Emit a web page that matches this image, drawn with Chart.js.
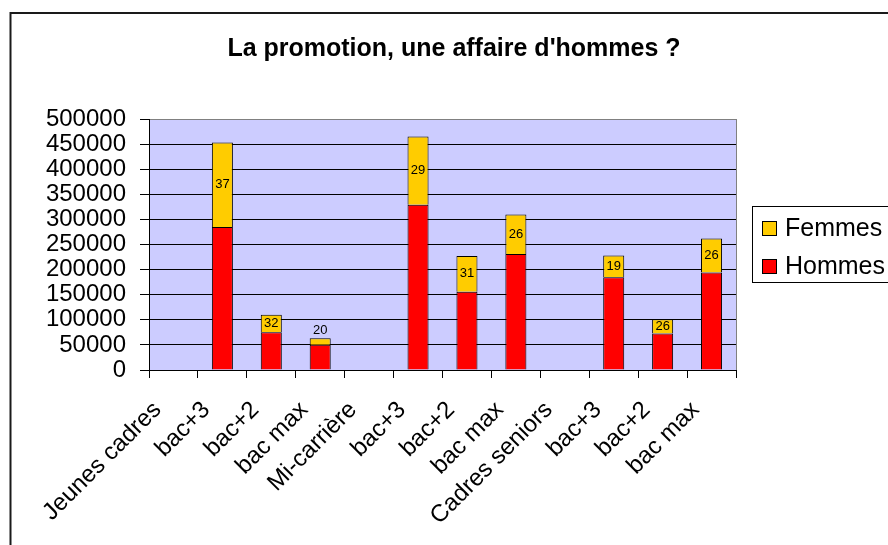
<!DOCTYPE html>
<html>
<head>
<meta charset="utf-8">
<script src="https://cdn.jsdelivr.net/npm/chart.js@4"></script>
<style>
  html, body { margin: 0; padding: 0; background: #fff; overflow: hidden; }
  canvas { display: block; }
</style>
</head>
<body>
<canvas id="chart" width="888" height="545"></canvas>
<script>
const categories = [
  "Jeunes cadres", "bac+3", "bac+2", "bac max",
  "Mi-carrière", "bac+3", "bac+2", "bac max",
  "Cadres seniors", "bac+3", "bac+2", "bac max"
];
const hommes = [null, 285000, 75000, 50500, null, 329000, 156000, 231000, null, 185000, 72500, 194000];
const femmes = [null, 168000, 35000, 12500, null, 136000, 71000, 79000, null, 43000, 28500, 68000];
const femmesPct = [null, 37, 32, 20, null, 29, 31, 26, null, 19, 26, 26];
const yTicks = [0, 50000, 100000, 150000, 200000, 250000, 300000, 350000, 400000, 450000, 500000];

const chartTitle = "La promotion, une affaire d'hommes ?";
const FONT = "'Liberation Sans', Arial, sans-serif";

const frame = {
  id: "frame",
  beforeDraw(chart) {
    const { ctx, chartArea: a } = chart;
    ctx.save();
    ctx.fillStyle = "#fff";
    ctx.fillRect(0, 0, chart.width, chart.height);
    ctx.strokeStyle = "#1a1a1a";
    ctx.lineWidth = 2;
    ctx.strokeRect(10.5, 13, 1000, 1000);
    ctx.fillStyle = "#ccccff";
    ctx.fillRect(a.left, a.top, a.right - a.left, a.bottom - a.top);
    ctx.fillStyle = "#000";
    ctx.font = "bold 25px " + FONT;
    ctx.textAlign = "center";
    ctx.textBaseline = "alphabetic";
    ctx.fillText(chartTitle, 454, 56);
    ctx.restore();
  },
  afterDraw(chart) {
    const { ctx, chartArea: a } = chart;
    ctx.save();
    ctx.strokeStyle = "#808080";
    ctx.lineWidth = 1;
    ctx.beginPath();
    ctx.moveTo(a.right + 0.5, a.top);
    ctx.lineTo(a.right + 0.5, a.bottom);
    ctx.stroke();

    // legend
    ctx.strokeStyle = "#000";
    ctx.strokeRect(752.5, 206.5, 140, 76);
    const items = chart.data.datasets.slice().reverse();
    ctx.font = "25px " + FONT;
    ctx.textAlign = "left";
    ctx.textBaseline = "alphabetic";
    items.forEach((ds, i) => {
      const y = 221 + i * 38;
      ctx.fillStyle = ds.backgroundColor;
      ctx.fillRect(762, y, 14, 14);
      ctx.strokeRect(762.5, y + 0.5, 14, 14);
      ctx.fillStyle = "#000";
      ctx.fillText(ds.label, 785, y + 15);
    });
    ctx.restore();
  }
};

const pctLabels = {
  id: "pctLabels",
  afterDatasetsDraw(chart) {
    const { ctx } = chart;
    const meta = chart.getDatasetMeta(1);
    ctx.save();
    ctx.font = "13px " + FONT;
    ctx.fillStyle = "#000";
    ctx.textAlign = "center";
    meta.data.forEach((bar, i) => {
      if (femmesPct[i] == null) return;
      const h = bar.base - bar.y;
      if (h < 11) {
        ctx.textBaseline = "bottom";
        ctx.fillText(femmesPct[i], bar.x, bar.y - 1);
      } else {
        ctx.textBaseline = "middle";
        ctx.fillText(femmesPct[i], bar.x, (bar.y + bar.base) / 2);
      }
    });
    ctx.restore();
  }
};

new Chart(document.getElementById("chart"), {
  type: "bar",
  data: {
    labels: categories,
    datasets: [
      {
        label: "Hommes",
        data: hommes,
        backgroundColor: "#ff0000",
        borderColor: "#000",
        borderWidth: 1
      },
      {
        label: "Femmes",
        data: femmes,
        backgroundColor: "#ffcc00",
        borderColor: "#000",
        borderWidth: 1
      }
    ]
  },
  options: {
    responsive: false,
    animation: false,
    layout: { padding: { left: 0, right: 152, top: 119, bottom: 0 } },
    datasets: { bar: { categoryPercentage: 1, barPercentage: 0.43 } },
    plugins: {
      legend: { display: false },
      title: { display: false },
      tooltip: { enabled: false }
    },
    scales: {
      x: {
        stacked: true,
        border: { color: "#000", width: 1 },
        grid: { drawOnChartArea: false, drawTicks: true, tickLength: 8, color: "#000", offset: true },
        ticks: {
          color: "#000",
          font: { family: FONT, size: 24 },
          minRotation: 45,
          maxRotation: 45,
          autoSkip: false,
          padding: 18,
          labelOffset: -16
        },
        afterFit(scale) { scale.height = 175; }
      },
      y: {
        stacked: true,
        min: 0,
        max: 500000,
        border: { color: "#000", width: 1 },
        grid: {
          color: ctx => (ctx.tick && ctx.tick.value === 500000 ? "#808080" : "#000"),
          tickColor: "#000",
          tickLength: 9,
          drawTicks: true
        },
        afterBuildTicks(scale) { scale.ticks = yTicks.map(v => ({ value: v })); },
        ticks: {
          color: "#000",
          font: { family: FONT, size: 24 },
          padding: 14,
          autoSkip: false,
          callback: v => String(v)
        },
        afterFit(scale) { scale.width = 149; }
      }
    }
  },
  plugins: [frame, pctLabels]
});
</script>
</body>
</html>
